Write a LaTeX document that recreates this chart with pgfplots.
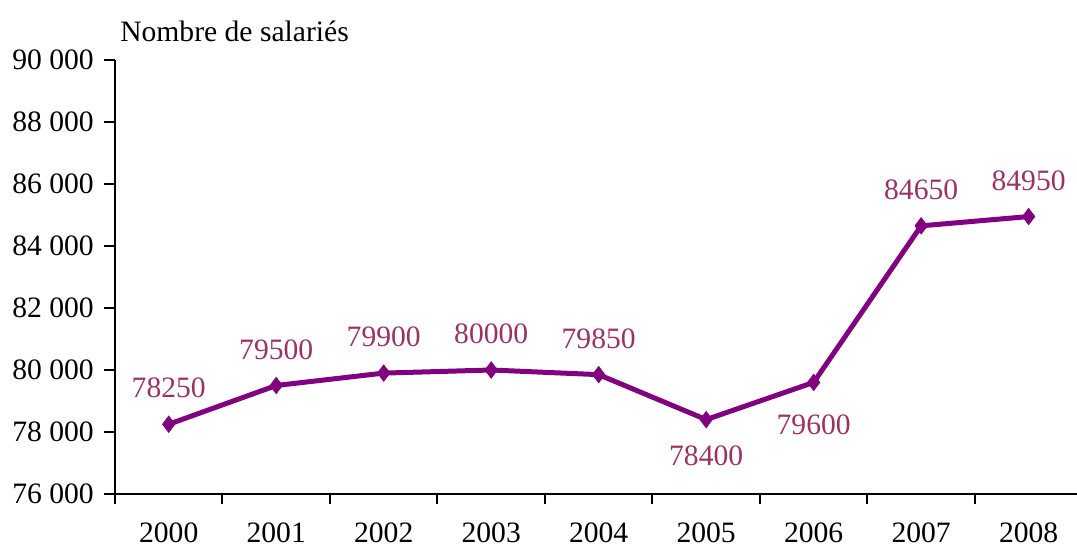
\documentclass[border=0pt]{standalone}
\usepackage{fontspec}
\setmainfont{Liberation Serif}
\usepackage{pgfplots}
\pgfplotsset{compat=1.18}
\definecolor{linecol}{HTML}{800080}
\definecolor{labcol}{HTML}{993366}
\begin{document}
\fontsize{14.8}{17}\selectfont
\begin{tikzpicture}
\useasboundingbox (-57.5pt,-26.5pt) rectangle (481pt,247pt);
\begin{axis}[
  scale only axis,
  width=481pt, height=217pt,
  at={(0,0)}, anchor=south west,
  xmin=-0.5, xmax=8.45,
  ymin=76000, ymax=90000,
  axis x line*=bottom, axis y line*=left,
  axis line style={line width=1pt, -},
  xtick={0,...,8},
  xticklabels={2000,2001,2002,2003,2004,2005,2006,2007,2008},
  minor xtick={-0.5,0.5,...,8.5},
  major x tick style={draw=none},
  minor tick length=5pt,
  ytick={76000,78000,...,90000},
  scaled y ticks=false,
  yticklabel={\pgfmathprintnumber[fixed, precision=0, 1000 sep={\ }, assume math mode=true]{\tick}},
  major tick length=5.5pt,
  tick align=outside,
  tick style={line width=1pt, black},
  yticklabel style={font=\fontsize{14.8}{17}\selectfont},
  xticklabel style={font=\fontsize{14.8}{17}\selectfont, yshift=-4pt},
  clip=false,
]
\addplot[linecol, line width=2.5pt, mark=diamond*, mark size=4pt, mark options={solid, fill=linecol, line width=0.5pt}]
 coordinates {(0,78250) (1,79500) (2,79900) (3,80000) (4,79850) (5,78400) (6,79600) (7,84650) (8,84950)};
\addplot[draw=none, mark=none, nodes near coords, point meta=explicit symbolic,
  every node near coord/.append style={anchor=center, yshift=18pt, text=labcol, font=\fontsize{14.8}{17}\selectfont}]
 coordinates {(0,78250)[78250] (1,79500)[79500] (2,79900)[79900] (3,80000)[80000] (4,79850)[79850] (7,84650)[84650] (8,84950)[84950]};
\addplot[draw=none, mark=none, nodes near coords, point meta=explicit symbolic,
  every node near coord/.append style={anchor=center, yshift=-18pt, text=labcol, font=\fontsize{14.8}{17}\selectfont}]
 coordinates {(5,78400)[78400]};
\addplot[draw=none, mark=none, nodes near coords, point meta=explicit symbolic,
  every node near coord/.append style={anchor=center, yshift=-21pt, text=labcol, font=\fontsize{14.8}{17}\selectfont}]
 coordinates {(6,79600)[79600]};
\node[anchor=base west, font=\fontsize{14.8}{17}\selectfont] at (rel axis cs:0,1) [xshift=-2.5pt, yshift=9.5pt] {Nombre de salariés};
\end{axis}
\end{tikzpicture}
\end{document}
